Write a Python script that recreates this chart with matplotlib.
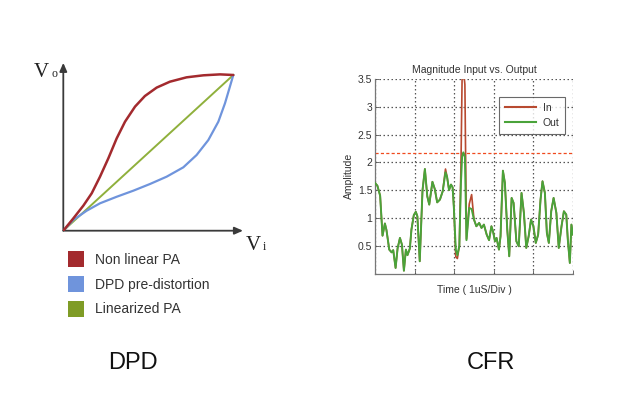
import matplotlib
matplotlib.use("Agg")
import matplotlib.pyplot as plt
from matplotlib.patches import Rectangle

plt.rcParams['font.family'] = ['Liberation Sans', 'DejaVu Sans']

# ---------------- DPD data (normalised transfer curves) ----------------
vin_nonlinear = [0.0, 0.059, 0.118, 0.167, 0.216, 0.265, 0.314, 0.363, 0.422, 0.480,
                 0.549, 0.627, 0.725, 0.824, 0.922, 1.0]
vout_nonlinear = [0.0, 0.079, 0.161, 0.240, 0.347, 0.465, 0.593, 0.700, 0.797, 0.865,
                  0.919, 0.957, 0.985, 0.998, 1.004, 1.0]
vin_predist = [0.0, 0.059, 0.137, 0.216, 0.314, 0.412, 0.510, 0.608, 0.706, 0.784,
               0.853, 0.912, 0.951, 0.980, 1.0]
vout_predist = [0.0, 0.069, 0.128, 0.176, 0.218, 0.257, 0.300, 0.347, 0.407, 0.486,
                0.582, 0.700, 0.818, 0.925, 1.0]
vin_linear = [0.0, 1.0]
vout_linear = [0.0, 1.0]
dpd_legend = ["Non linear PA", "DPD pre-distortion", "Linearized PA"]

# ---------------- CFR data ----------------
t_us = [0, 0.06, 0.13, 0.19, 0.25, 0.29, 0.36, 0.42, 0.46, 0.52, 0.57, 0.63, 0.68,
        0.73, 0.78, 0.82, 0.88, 0.92, 0.98, 1.03, 1.07, 1.13, 1.20, 1.26, 1.32, 1.37,
        1.45, 1.51, 1.57, 1.64, 1.71, 1.78, 1.82, 1.87, 1.92, 1.96, 1.99, 2.04, 2.08,
        2.13, 2.17, 2.20, 2.23, 2.27, 2.31, 2.38, 2.44, 2.50, 2.56, 2.63, 2.69, 2.75,
        2.82, 2.88, 2.94, 2.98, 3.03, 3.07, 3.13, 3.17, 3.23, 3.28, 3.34, 3.39, 3.45,
        3.50, 3.57, 3.63, 3.70, 3.76, 3.82, 3.88, 3.94, 4.00, 4.06, 4.12, 4.18, 4.23,
        4.29, 4.34, 4.39, 4.45, 4.51, 4.58, 4.64, 4.71, 4.77, 4.83, 4.87, 4.92, 4.96, 5.0]
amp_out = [1.63, 1.58, 1.40, 0.68, 0.90, 0.78, 0.43, 0.38, 0.42, 0.10, 0.45, 0.64, 0.52,
           0.05, 0.43, 0.33, 0.45, 0.79, 1.05, 1.11, 1.03, 0.22, 1.50, 1.88, 1.39, 1.24,
           1.65, 1.52, 1.28, 1.33, 1.48, 1.82, 1.74, 1.50, 1.60, 1.55, 1.21, 0.43, 0.33,
           0.50, 1.63, 2.10, 2.18, 2.10, 0.60, 1.18, 1.16, 0.97, 0.85, 0.91, 0.82, 0.88,
           0.70, 0.60, 0.85, 0.76, 0.58, 0.64, 0.43, 0.67, 1.85, 1.63, 0.79, 0.31, 1.36,
           1.27, 0.58, 0.49, 1.45, 1.09, 0.46, 0.67, 0.97, 0.85, 0.55, 0.70, 1.33, 1.66,
           1.45, 0.73, 0.55, 1.12, 1.36, 1.09, 0.46, 0.85, 1.12, 1.06, 0.60, 0.19, 0.88, 0.70]
amp_in = [1.63, 1.58, 1.40, 0.68, 0.90, 0.78, 0.43, 0.38, 0.42, 0.10, 0.45, 0.64, 0.52,
          0.05, 0.43, 0.33, 0.45, 0.79, 1.05, 1.11, 1.03, 0.22, 1.50, 1.88, 1.39, 1.24,
          1.65, 1.52, 1.28, 1.33, 1.48, 1.88, 1.74, 1.50, 1.60, 1.55, 1.21, 0.30, 0.27,
          0.50, 1.90, 3.55, 3.70, 3.40, 0.62, 1.25, 1.42, 0.97, 0.85, 0.91, 0.82, 0.88,
          0.70, 0.60, 0.85, 0.76, 0.58, 0.64, 0.43, 0.67, 1.85, 1.63, 0.79, 0.31, 1.36,
          1.27, 0.58, 0.49, 1.45, 1.09, 0.46, 0.67, 0.97, 0.85, 0.55, 0.70, 1.33, 1.66,
          1.45, 0.73, 0.55, 1.12, 1.36, 1.09, 0.46, 0.85, 1.12, 1.06, 0.60, 0.19, 0.88, 0.70]
clip_threshold = 2.17
y_ticks = [0.5, 1, 1.5, 2, 2.5, 3, 3.5]
y_ticklabels = ["0.5", "1", "1.5", "2", "2.5", "3", "3.5"]

W, H = 624, 398
fig = plt.figure(figsize=(W / 100, H / 100), dpi=100)
fig.patch.set_facecolor("white")

RED = "#a32a2e"
BLUE = "#6f94dc"
GREEN = "#7f9c26"

# ---------------- DPD axes ----------------
ox, oy = 63.3, 230.7
ux, uy = 170.0, 155.7
xmax, ymax = 1.06, 1.1
ax1 = fig.add_axes([ox / W, (H - oy) / H, ux * xmax / W, uy * ymax / H])
ax1.set_xlim(0, xmax)
ax1.set_ylim(0, ymax)
ax1.axis("off")
ax1.plot(vin_linear, vout_linear, color="#8fb03c", lw=1.4, zorder=2)
ax1.plot(vin_predist, vout_predist, color=BLUE, lw=1.6, zorder=3,
         solid_joinstyle="round", solid_capstyle="round")
ax1.plot(vin_nonlinear, vout_nonlinear, color=RED, lw=1.8, zorder=4,
         solid_joinstyle="round", solid_capstyle="round")
ax1.annotate("", xy=(1.057, 0), xytext=(0, 0),
             arrowprops=dict(arrowstyle="-|>,head_length=0.5,head_width=0.22",
                             color="#3a3a3a", lw=1.3, shrinkA=0, shrinkB=0), annotation_clip=False)
ax1.annotate("", xy=(0, 1.078), xytext=(0, 0),
             arrowprops=dict(arrowstyle="-|>,head_length=0.5,head_width=0.22",
                             color="#3a3a3a", lw=1.3, shrinkA=0, shrinkB=0), annotation_clip=False)
serif = ["Liberation Serif", "DejaVu Serif"]
fig.text(34 / W, 1 - 77 / H, "V", fontsize=15, color="#222222", family=serif,
         va="baseline", ha="left")
fig.text(51.5 / W, 1 - 77 / H, "o", fontsize=8.5, color="#222222", family=serif,
         va="baseline", ha="left")
fig.text(246 / W, 1 - 250 / H, "V", fontsize=15, color="#222222", family=serif,
         va="baseline", ha="left")
fig.text(262.5 / W, 1 - 250 / H, "i", fontsize=8.5, color="#222222", family=serif,
         va="baseline", ha="left")

leg_colors = [RED, BLUE, GREEN]
leg_y = [251, 276, 300.5]
for lab, c, yy in zip(dpd_legend, leg_colors, leg_y):
    fig.patches.append(Rectangle((67.5 / W, 1 - (yy + 16) / H), 16.5 / W, 16 / H,
                                 transform=fig.transFigure, facecolor=c, edgecolor="none"))
    fig.text(95 / W, 1 - (yy + 8.5) / H, lab, fontsize=10, color="#333333",
             va="center", ha="left")

fig.text(133 / W, 1 - 363 / H, "DPD", fontsize=17, color="#111111", ha="center", va="center")
fig.text(491 / W, 1 - 363 / H, "CFR", fontsize=17, color="#111111", ha="center", va="center")

# ---------------- CFR axes ----------------
L, R, T, B = 375, 573, 79, 273.5
ax2 = fig.add_axes([L / W, (H - B) / H, (R - L) / W, (B - T) / H])
ax2.plot(t_us, amp_in, color="#b84a30", lw=1.2, label="In", zorder=3)
ax2.plot(t_us, amp_out, color="#4aa33a", lw=1.4, label="Out", zorder=4)
ax2.axhline(clip_threshold, color="#f04a1e", lw=0.9, ls=(0, (2.5, 1.8)), zorder=2.5)
ax2.set_xlim(0, 5)
ax2.set_ylim(0, 3.5)
ax2.set_xticks([0, 1, 2, 3, 4, 5])
ax2.set_xticklabels([])
ax2.set_yticks(y_ticks)
ax2.set_yticklabels(y_ticklabels)
ax2.tick_params(axis="both", direction="in", length=3, width=0.6, colors="#555555",
                labelsize=7.5, labelcolor="#333333", pad=2)
ax2.grid(True, color="#555555", ls=(0, (1.2, 2)), lw=0.9)
for s in ["top", "right"]:
    ax2.spines[s].set_visible(False)
for s in ["left", "bottom"]:
    ax2.spines[s].set_color("#777777")
    ax2.spines[s].set_linewidth(0.9)
ax2.set_title("Magnitude Input vs. Output", fontsize=7.5, color="#333333", pad=4)
ax2.set_xlabel("Time ( 1uS/Div )", fontsize=7.5, color="#333333", labelpad=6)
ax2.set_ylabel("Amplitude", fontsize=7.5, color="#333333", labelpad=3)
leg = ax2.legend(loc="upper right", bbox_to_anchor=(0.96, 0.907), borderaxespad=0,
                 fontsize=7.5, frameon=True, fancybox=False, handlelength=3.0,
                 borderpad=0.55, labelspacing=0.5, handletextpad=0.6)
leg.get_frame().set_edgecolor("#444444")
leg.get_frame().set_linewidth(0.8)
for line in leg.get_lines():
    line.set_linewidth(1.5)
for txt in leg.get_texts():
    txt.set_color("#333333")

fig.savefig("out.png", dpi=100, facecolor="white")
